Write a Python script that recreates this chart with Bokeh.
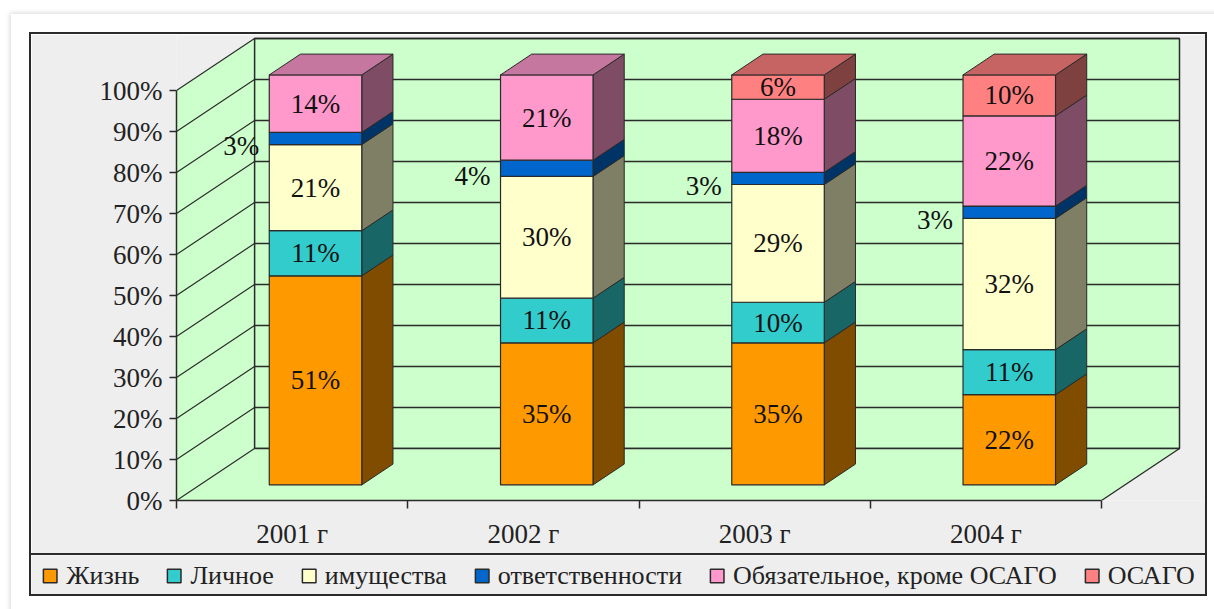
from bokeh.plotting import figure
from bokeh.models import Range1d, FixedTicker, ColumnDataSource, Legend, LegendItem
from bokeh.layouts import column
from bokeh.embed import file_html
from bokeh.resources import INLINE
from bokeh.core.properties import value

# ---------------- data ----------------
years = ["2001 г", "2002 г", "2003 г", "2004 г"]
series_names = ["Жизнь", "Личное", "имущества", "ответственности",
                "Обязательное, кроме ОСАГО", "ОСАГО"]
zhizn = [51, 35, 35, 22]
lichnoe = [11, 11, 10, 11]
imushchestvo = [21, 30, 29, 32]
otvetstvennost = [3, 4, 3, 3]
obyazatelnoe = [14, 21, 18, 22]
osago = [0, 0, 6, 10]
y_ticks = [0, 10, 20, 30, 40, 50, 60, 70, 80, 90, 100]
y_tick_labels = ["0%", "10%", "20%", "30%", "40%", "50%", "60%", "70%", "80%", "90%", "100%"]

series_values = [zhizn, lichnoe, imushchestvo, otvetstvennost, obyazatelnoe, osago]
colors = ["#FF9900", "#33CCCC", "#FFFFCC", "#0066CC", "#FF99CC", "#FF8080"]

# ---------------- styling / geometry ----------------
FONT = "Liberation Serif"
GRAY = "#EEEEEE"
WALL = "#CCFFCC"
LINE = "#2a2a2a"
PX_X = 231.25          # pixels per category
PX_Y = 4.1             # pixels per percent
DX = 78 / PX_X         # depth offset in x units
DY = 52 / PX_Y         # depth offset in y units
D0, D1 = 0.30, 0.70    # bar depth range
HW = 0.2               # bar half width
W, H = 1174, 519
MB_L, MB_R, MB_T, MB_B = 145, 1, 1, 53
XEND = (W - MB_L - MB_R) / PX_X
YEND = (H - MB_T - MB_B) / PX_Y
NCAT = len(years)


def shade(hexc, f):
    hexc = hexc.lstrip("#")
    r, g, b = (int(hexc[i:i + 2], 16) for i in (0, 2, 4))
    return "#%02x%02x%02x" % (int(r * f), int(g * f), int(b * f))


p = figure(width=W, height=H, x_range=Range1d(0, XEND), y_range=Range1d(0, YEND),
           output_backend="svg", toolbar_location=None,
           min_border_left=MB_L, min_border_right=MB_R,
           min_border_top=MB_T, min_border_bottom=MB_B)
p.frame_align = False
p.background_fill_color = GRAY
p.border_fill_color = GRAY
p.outline_line_color = None
p.xgrid.visible = False
p.ygrid.visible = False

# walls
p.quad(left=[DX], right=[NCAT + DX], bottom=[DY], top=[100 + DY],
       fill_color=WALL, line_color=LINE, line_width=1.5)
p.patch([0, DX, DX, 0], [0, DY, 100 + DY, 100], fill_color=WALL, line_color=None)
p.patch([0, NCAT, NCAT + DX, DX], [0, 0, DY, DY], fill_color=WALL, line_color=None)
# gridlines
p.segment(x0=[DX] * len(y_ticks), x1=[NCAT + DX] * len(y_ticks),
          y0=[t + DY for t in y_ticks], y1=[t + DY for t in y_ticks],
          line_color=LINE, line_width=1.5)
p.segment(x0=[0] * len(y_ticks), x1=[DX] * len(y_ticks),
          y0=y_ticks, y1=[t + DY for t in y_ticks], line_color=LINE, line_width=1.2)
p.segment(x0=[DX, NCAT], x1=[DX, NCAT + DX], y0=[DY, 0], y1=[100 + DY, DY],
          line_color=LINE, line_width=1.3)

# bars
for i in range(NCAT):
    vals = [s[i] for s in series_values]
    total = float(sum(vals))
    c = i + 0.5
    fx0 = c - HW + D0 * DX
    fx1 = c + HW + D0 * DX
    bx1 = c + HW + D1 * DX
    bx0 = c - HW + D1 * DX
    cum = 0.0
    top_idx = max(k for k, v in enumerate(vals) if v > 0)
    for k, v in enumerate(vals):
        if v <= 0:
            continue
        lo = cum / total * 100
        hi = (cum + v) / total * 100
        cum += v
        col = colors[k]
        p.patch([fx1, bx1, bx1, fx1], [lo + D0 * DY, lo + D1 * DY, hi + D1 * DY, hi + D0 * DY],
                fill_color=shade(col, 0.5), line_color=LINE, line_width=1)
        p.quad(left=[fx0], right=[fx1], bottom=[lo + D0 * DY], top=[hi + D0 * DY],
               fill_color=col, line_color=LINE, line_width=1.2)
        if k == top_idx:
            p.patch([fx0, fx1, bx1, bx0], [hi + D0 * DY, hi + D0 * DY, hi + D1 * DY, hi + D1 * DY],
                    fill_color=shade(col, 0.78), line_color=LINE, line_width=1)

# labels
lab_c = dict(x=[], y=[], text=[])
lab_s = dict(x=[], y=[], text=[])
for i in range(NCAT):
    vals = [s[i] for s in series_values]
    total = float(sum(vals))
    c = i + 0.5
    cum = 0.0
    for k, v in enumerate(vals):
        if v <= 0:
            continue
        mid = (cum + v / 2) / total * 100 + D0 * DY
        cum += v
        if k == 3:
            lab_s["x"].append(c - HW + D0 * DX)
            lab_s["y"].append(mid)
            lab_s["text"].append(f"{v}%")
        else:
            lab_c["x"].append(c + D0 * DX)
            lab_c["y"].append(mid)
            lab_c["text"].append(f"{v}%")

p.text(x="x", y="y", text="text", source=ColumnDataSource(lab_c),
       text_font=value(FONT), text_font_size="27px", text_color="#111111",
       text_align="center", text_baseline="middle")
p.text(x="x", y="y", text="text", source=ColumnDataSource(lab_s),
       text_font=value(FONT), text_font_size="27px", text_color="#111111",
       text_align="right", text_baseline="middle", x_offset=-10, y_offset=8)

# axes
ya = p.yaxis[0]
ya.ticker = FixedTicker(ticks=y_ticks)
ya.major_label_overrides = {t: l for t, l in zip(y_ticks, y_tick_labels)}
ya.bounds = (0, 100)
ya.axis_line_color = LINE
ya.axis_line_width = 1.5
ya.major_tick_line_color = LINE
ya.major_tick_line_width = 1.5
ya.major_tick_out = 7
ya.major_tick_in = 0
ya.minor_tick_line_color = None
ya.major_label_standoff = 7
ya.major_label_text_font = FONT
ya.major_label_text_font_size = "27px"
ya.major_label_text_color = "#222222"

xa = p.xaxis[0]
centers = [i + 0.5 for i in range(NCAT)]
xa.ticker = FixedTicker(ticks=centers, minor_ticks=list(range(NCAT + 1)))
xa.major_label_overrides = {c: y for c, y in zip(centers, years)}
xa.bounds = (0, NCAT)
xa.axis_line_color = LINE
xa.axis_line_width = 1.5
xa.major_tick_line_color = None
xa.major_tick_out = 0
xa.major_tick_in = 0
xa.minor_tick_line_color = LINE
xa.minor_tick_line_width = 1.5
xa.minor_tick_out = 8
xa.minor_tick_in = 0
xa.major_label_standoff = 10
xa.major_label_text_font = FONT
xa.major_label_text_font_size = "27px"
xa.major_label_text_color = "#222222"

# legend strip
pl = figure(width=W, height=41, x_range=Range1d(0, 1), y_range=Range1d(0, 1),
            output_backend="svg", toolbar_location=None,
            min_border_left=0, min_border_right=0, min_border_top=0, min_border_bottom=0,
            x_axis_location=None, y_axis_location=None,
            styles={"border-top": "2px solid #2a2a2a"})
pl.frame_align = False
pl.background_fill_color = GRAY
pl.border_fill_color = GRAY
pl.outline_line_color = None
pl.xgrid.visible = False
pl.ygrid.visible = False
items = []
for name, col in zip(series_names, colors):
    r = pl.quad(left=[5], right=[6], top=[6], bottom=[5], fill_color=col,
                line_color=LINE, line_width=1.5)
    items.append(LegendItem(label=name, renderers=[r]))
leg = Legend(items=items, orientation="horizontal", location="center",
             margin=0, padding=0, spacing=26, label_standoff=8,
             glyph_width=17, glyph_height=17,
             label_text_font=FONT, label_text_font_size="26px",
             label_text_color="#222222",
             border_line_color=None, background_fill_color=None)
pl.add_layout(leg, "center")

layout = column(p, pl, margin=(32, 0, 0, 29),
                styles={"border": "2px solid #2a2a2a",
                        "box-shadow": "0 0 0 18px #ffffff, 0 0 5px 19px #d9d9d9"})

open("out.html", "w").write(file_html(layout, INLINE))
